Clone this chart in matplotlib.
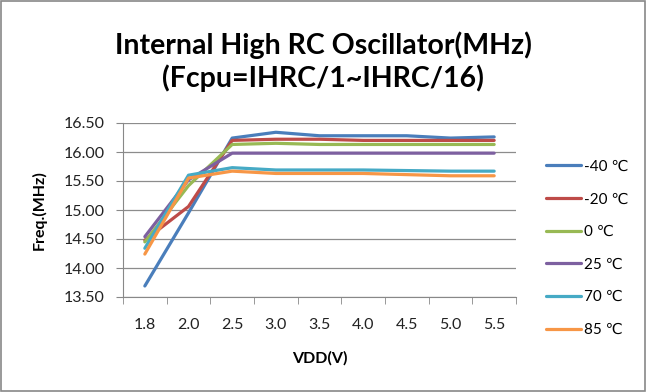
import matplotlib
matplotlib.use("Agg")
import matplotlib.pyplot as plt
from matplotlib.patches import Rectangle
import numpy as np

# Data
vdd = ["1.8", "2.0", "2.5", "3.0", "3.5", "4.0", "4.5", "5.0", "5.5"]
temps = ["-40 ℃", "-20 ℃", "0 ℃", "25 ℃", "70 ℃", "85 ℃"]
f_m40 = [13.69, 14.95, 16.24, 16.34, 16.28, 16.28, 16.28, 16.24, 16.26]
f_m20 = [14.48, 15.06, 16.20, 16.22, 16.22, 16.20, 16.20, 16.20, 16.20]
f_0 = [14.45, 15.42, 16.13, 16.15, 16.13, 16.13, 16.13, 16.13, 16.13]
f_25 = [14.54, 15.52, 15.98, 15.98, 15.98, 15.98, 15.98, 15.98, 15.98]
f_70 = [14.34, 15.60, 15.73, 15.69, 15.69, 15.69, 15.68, 15.67, 15.67]
f_85 = [14.24, 15.55, 15.67, 15.63, 15.63, 15.63, 15.61, 15.59, 15.59]
colors = ["#4A7EBB", "#BE4B48", "#98B954", "#7D60A0", "#46AAC5", "#F79646"]

series = [f_m40, f_m20, f_0, f_25, f_70, f_85]

plt.rcParams['font.family'] = ['Lato', 'DejaVu Sans']

fig = plt.figure(figsize=(6.46, 3.92), dpi=100)
# plot area in pixels: x 123..516, y 123..297 (from top)
W, H = 646, 392
ax = fig.add_axes([123 / W, 1 - 297 / H, (516 - 123) / W, (297 - 123) / H])

x = np.arange(len(vdd))
for vals, lab, c in zip(series, temps, colors):
    ax.plot(x, vals, color=c, lw=2.3, label=lab, solid_capstyle='round')

ax.set_xlim(-0.5, len(vdd) - 0.5)
ax.set_ylim(13.5, 16.5)
ax.set_yticks(np.arange(13.5, 16.51, 0.5))
ax.set_yticklabels([f"{v:.2f}" for v in np.arange(13.5, 16.51, 0.5)])
ax.set_xticks(x)
ax.set_xticklabels(vdd)
ax.set_xticks(np.arange(-0.5, len(vdd)), minor=True)
ax.tick_params(axis='x', which='major', length=0, pad=15, labelsize=11.5, labelcolor='#222222')
ax.tick_params(axis='x', which='minor', length=5, color='#888888', direction='out')
ax.tick_params(axis='y', length=5, color='#888888', pad=8, labelsize=11.5, labelcolor='#222222')
ax.grid(axis='y', color='#8c8c8c', lw=0.9)
ax.set_axisbelow(True)
for s in ['top', 'right']:
    ax.spines[s].set_visible(False)
ax.spines['left'].set_color('#888888')
ax.spines['bottom'].set_color('#888888')

ax.set_ylabel("Freq.(MHz)", fontsize=11.5, fontweight='bold', labelpad=12)
ax.set_xlabel("VDD(V)", fontsize=11.5, fontweight='bold', labelpad=14)

fig.text(0.5, 1 - 45 / H, "Internal High RC Oscillator(MHz)", ha='center', va='center',
         fontsize=20.5, fontweight='bold')
fig.text(0.5, 1 - 78 / H, "(Fcpu=IHRC/1~IHRC/16)", ha='center', va='center',
         fontsize=20.5, fontweight='bold')

fig.legend(loc='upper left', bbox_to_anchor=(532 / W, 1 - 146 / H), frameon=False,
           fontsize=11, handlelength=2.3, handletextpad=0.2, labelspacing=1.22)

fig.patches.append(Rectangle((0.002, 0.003), 0.996, 0.994, transform=fig.transFigure,
                             fill=False, edgecolor='#888888', lw=1.2))

fig.savefig("out.png", dpi=100)
